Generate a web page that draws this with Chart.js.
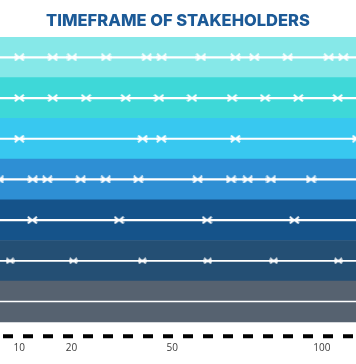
<!DOCTYPE html>
<html><head><meta charset="utf-8">
<script src="https://cdn.jsdelivr.net/npm/chart.js@4/dist/chart.umd.min.js"></script>
<style>html,body{margin:0;padding:0;background:#fff;}</style>
</head><body>
<canvas id="c" width="356" height="364"></canvas>
<script>
// ---- data ----
const chartTitle = 'TIMEFRAME OF STAKEHOLDERS';
const tickLabels = ['10', '20', '50', '100'];
const tickValues = [5.4, 20.1, 48.4, 90.4];          // positions on the timeline (0-100)
const rows = [1, 2, 3, 4, 5, 6, 7];
const bandColors = ['#86E8E8', '#3ED8D8', '#38C8F0', '#2E8FD4', '#15538A', '#244F74', '#566270'];
const row1 = [5.42, 14.80, 20.22, 29.78, 41.21, 45.42, 56.46, 66.10, 71.43, 80.81, 92.33, 96.43];
const row2 = [5.42, 14.80, 24.16, 35.31, 44.66, 53.93, 65.17, 74.44, 83.79, 94.86];
const row3 = [5.42, 40.08, 45.31, 66.10, 100.3];
const row4 = [-0.3, 9.19, 13.29, 22.67, 29.69, 38.85, 55.53, 64.89, 69.58, 76.12, 87.36];
const row5 = [9.07, 33.43, 58.15, 82.67];
const row6 = [2.81, 20.59, 39.97, 58.34, 76.88, 95.03];
const rowMarkers = [row1, row2, row3, row4, row5, row6];
const baselineRow = 7.85;

// ---- marker glyph (two arrowheads meeting: "><") ----
function makeMarker(w, h, lw) {
  const c = document.createElement('canvas');
  c.width = w; c.height = h;
  const g = c.getContext('2d');
  g.strokeStyle = '#ffffff';
  g.fillStyle = '#ffffff';
  g.lineWidth = lw;
  g.lineJoin = 'miter';
  const cx = w / 2, cy = h / 2;
  g.beginPath();
  g.moveTo(1, 0.8); g.lineTo(cx - 0.6, cy); g.lineTo(1, h - 0.8);
  g.moveTo(w - 1, 0.8); g.lineTo(cx + 0.6, cy); g.lineTo(w - 1, h - 0.8);
  g.stroke();
  g.fillRect(0, cy - 1, w, 2);
  return c;
}
const bigMarker = makeMarker(11, 8, 2);
const smallMarker = makeMarker(9, 7, 1.7);

const datasets = [];
datasets.push({
  type: 'bar', indexAxis: 'y',
  data: rows.map(r => ({x: [-5, 105], y: r})),
  backgroundColor: bandColors, borderWidth: 0,
  barPercentage: 1, categoryPercentage: 1, order: 10
});
rows.forEach(r => {
  datasets.push({
    type: 'line', data: [{x: 0, y: r}, {x: 100, y: r}],
    borderColor: '#ffffff', borderWidth: r >= 6 ? 1.6 : 2.2,
    pointRadius: 0, order: 5
  });
});
rowMarkers.forEach((arr, i) => {
  datasets.push({
    type: 'line', showLine: false,
    data: arr.map(v => ({x: v, y: rows[i]})),
    pointStyle: i === 5 ? smallMarker : bigMarker,
    pointRadius: 5, order: 1
  });
});
datasets.push({
  type: 'line', data: [{x: 0, y: baselineRow}, {x: 100, y: baselineRow}],
  borderColor: '#000000', borderWidth: 4, borderDash: [10, 10], borderDashOffset: 17,
  pointRadius: 0, order: 5
});

new Chart(document.getElementById('c'), {
  type: 'scatter',
  data: {datasets},
  options: {
    responsive: false, animation: false,
    layout: {autoPadding: false, padding: {left: 0, right: 0, top: 0, bottom: 9.75}},
    plugins: {
      legend: {display: false}, tooltip: {enabled: false},
      title: {
        display: true, text: chartTitle, color: '#1C5A97',
        font: {family: 'Inter', size: 16.5, weight: '800'},
        padding: {top: 10.8, bottom: 6.4}
      }
    },
    scales: {
      x: {
        type: 'linear', min: 0, max: 100, offset: false, beginAtZero: false,
        grid: {display: false, drawTicks: false, offset: false}, border: {display: false},
        afterBuildTicks: s => { s.ticks = tickValues.map(v => ({value: v})); },
        ticks: {
          padding: 0, maxRotation: 0, autoSkip: false, color: '#3a3a3a',
          font: {family: 'Open Sans', size: 10},
          callback: (v, i) => tickLabels[i]
        }
      },
      y: {
        type: 'linear', reverse: true, min: 0.5, max: 8, display: false,
        offset: false, grid: {display: false, offset: false},
        afterBuildTicks: s => { s.ticks = rows.map(v => ({value: v})); }
      }
    }
  }
});
</script>
</body></html>
